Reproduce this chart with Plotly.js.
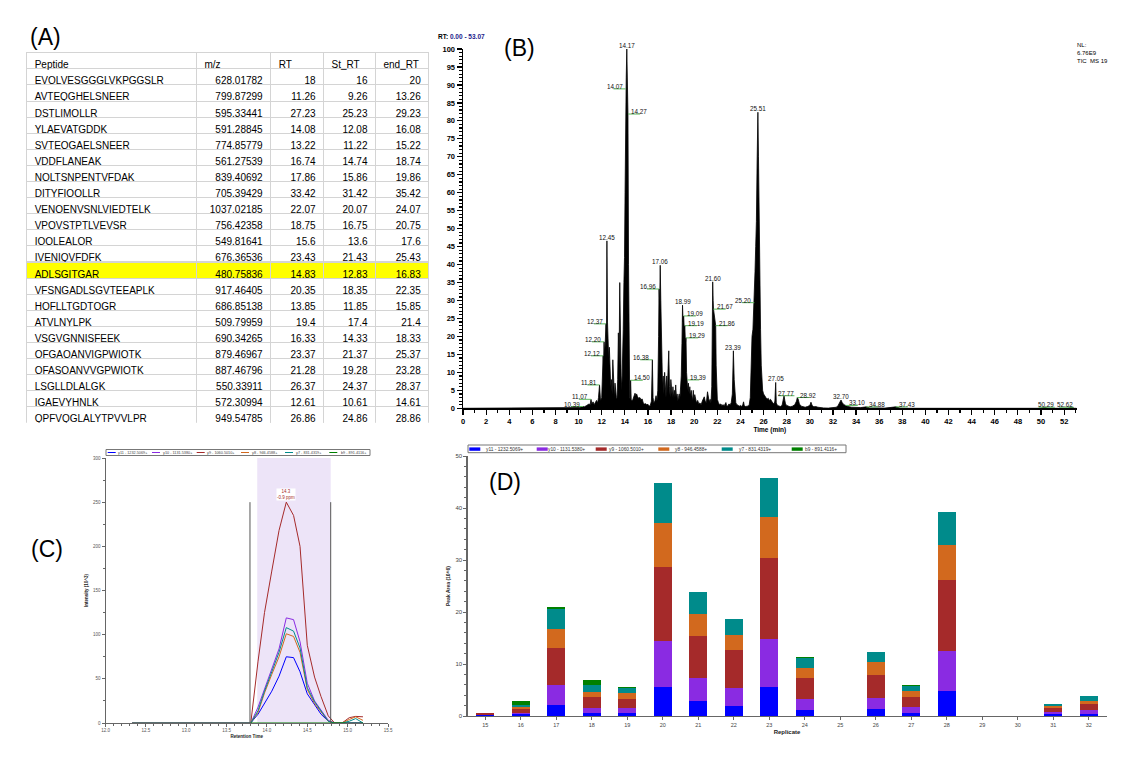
<!DOCTYPE html>
<html><head><meta charset="utf-8">
<script src="https://cdn.plot.ly/plotly-3.0.1.min.js"></script>
<style>html,body{margin:0;padding:0;background:#fff;} #chart{width:1133px;height:769px;}</style>
</head><body><div id="chart"></div>
<script>
const W = 1133, H = 769;
const X = px => px / W;
const Y = py => 1 - py / H;

// ---------------- (A) table data ----------------
const tableHeader = ['Peptide', 'm/z', 'RT', 'St_RT', 'end_RT'];
const peptides = ['EVQLVESGGGLVKPGGSLR','AVTEQGHELSNEER','DSTLIMQLLR','YLAEVATGDDK','SVTEQGAELSNEER','VDDFLANEAK','NQLTSNPENTVFDAK','DITYFIQQLLR','VENQENVSNLVIEDTELK','VPQVSTPTLVEVSR','IQQLEALQR','IVENIQVFDFK','ADLSGITGAR','VFSNGADLSGVTEEAPLK','HQFLLTGDTQGR','ATVLNYLPK','VSGVGNNISFEEK','QFGAQANVIGPWIQTK','QFASQANVVGPWIQTK','LSGLLDLALGK','IGAEVYHNLK','QPFVQGLALYTPVVLPR'];
const mz = ['628.01782','799.87299','595.33441','591.28845','774.85779','561.27539','839.40692','705.39429','1037.02185','756.42358','549.81641','676.36536','480.75836','917.46405','686.85138','509.79959','690.34265','879.46967','887.46796','550.33911','572.30994','949.54785'];
const rt = ['18','11.26','27.23','14.08','13.22','16.74','17.86','33.42','22.07','18.75','15.6','23.43','14.83','20.35','13.85','19.4','16.33','23.37','21.28','26.37','12.61','26.86'];
const stRT = ['16','9.26','25.23','12.08','11.22','14.74','15.86','31.42','20.07','16.75','13.6','21.43','12.83','18.35','11.85','17.4','14.33','21.37','19.28','24.37','10.61','24.86'];
const endRT = ['20','13.26','29.23','16.08','15.22','18.74','19.86','35.42','24.07','20.75','17.6','25.43','16.83','22.35','15.85','21.4','18.33','25.37','23.28','28.37','14.61','28.86'];
const highlightPeptide = 'ADLSGITGAR';

// ---------------- (B) TIC chromatogram data ----------------
const ticTime = [0,9.8,10.1,10.39,10.5,10.7,10.9,11.0,11.07,11.15,11.25,11.35,11.45,11.55,11.65,11.72,11.81,11.9,12.0,12.05,12.12,12.16,12.20,12.26,12.32,12.37,12.41,12.45,12.5,12.55,12.6,12.66,12.72,12.78,12.84,12.9,12.96,13.0,13.05,13.1,13.15,13.2,13.26,13.32,13.38,13.44,13.5,13.56,13.62,13.68,13.74,13.8,13.86,13.92,13.97,14.02,14.07,14.12,14.17,14.22,14.27,14.32,14.37,14.42,14.46,14.50,14.55,14.62,14.7,14.8,14.88,14.95,15.02,15.1,15.2,15.3,15.4,15.5,15.6,15.7,15.8,15.9,16.0,16.1,16.2,16.3,16.38,16.44,16.5,16.6,16.7,16.78,16.85,16.92,16.96,17.01,17.06,17.11,17.15,17.2,17.26,17.32,17.38,17.44,17.5,17.56,17.62,17.68,17.74,17.8,17.86,17.92,17.98,18.04,18.1,18.16,18.22,18.28,18.34,18.4,18.46,18.52,18.58,18.64,18.7,18.76,18.82,18.88,18.94,18.99,19.04,19.09,19.14,19.19,19.24,19.29,19.34,19.39,19.44,19.5,19.56,19.62,19.68,19.74,19.8,19.86,19.92,19.98,20.05,20.12,20.2,20.3,20.4,20.5,20.6,20.7,20.8,20.87,20.95,21.05,21.15,21.22,21.3,21.38,21.45,21.52,21.60,21.64,21.67,21.72,21.78,21.86,21.9,21.95,22.0,22.1,22.2,22.3,22.4,22.5,22.6,22.74,22.8,22.9,23.0,23.1,23.2,23.3,23.39,23.46,23.52,23.6,23.7,23.8,23.9,24.0,24.1,24.2,24.27,24.33,24.45,24.6,24.75,24.85,24.92,25.0,25.08,25.14,25.20,25.26,25.32,25.38,25.44,25.51,25.56,25.62,25.68,25.74,25.8,25.86,25.92,26.0,26.1,26.2,26.3,26.4,26.5,26.6,26.7,26.8,26.9,26.98,27.05,27.1,27.2,27.3,27.45,27.6,27.7,27.77,27.84,27.9,28.0,28.15,28.3,28.5,28.7,28.85,28.92,29.0,29.1,29.25,29.4,29.6,29.8,30.0,30.1,30.2,30.35,30.5,30.7,30.9,31.2,31.6,32.0,32.3,32.45,32.57,32.70,32.8,32.95,33.10,33.3,33.6,34.0,34.4,34.88,35.2,35.8,36.5,37.43,37.8,38.5,50.0,50.29,50.6,52.3,52.62,52.9,53.07];
const ticIntensity = [0,0,0.2,0.5,0.4,0.8,1.2,1.0,2.5,1.2,1.8,1.0,1.6,2.2,1.5,3.0,6.5,2.0,3.0,8,14.6,12,18.5,15,20,23.5,20,46.6,24,17.5,14,17,12,6,8,4,13.5,9,5,3,7,4,3,2.5,8,21,12,35,15,9,5,11,22,35,42,60,88.9,92,100,90,81.9,40,8,3,2.5,7.8,2.5,2.0,2.5,3.5,4.2,3.5,4.0,3.2,2.8,3.0,2.4,2.6,1.4,1.2,1.3,1.0,1.1,0.6,0.8,2,13.5,3,1.5,2,3.5,2,5,20,33.2,28,39.8,30,24,12,6,9,4,10,5,3,9,4,11,16,6,3,8,5,3,6,3,5,3,6.5,3,4,2,3,4,2.5,5,9,18,28.7,24,25.7,22,23.0,18,19.6,10,7.9,5,7,4,6,3.5,5,3,2,5,2.5,3.8,2,1.5,2.2,1.2,1.5,1.0,2.0,3.0,3.2,2.0,1.5,4.6,3.5,1.8,2.5,1.5,6,35.2,30,27.6,26,24,23.0,12,4,2.5,1.5,1.0,1.2,0.8,1.0,0.7,1.6,0.8,0.6,1.2,1.0,1.5,4,16.0,8,3,1.5,1.0,0.8,0.6,0.8,0.5,1.0,1.8,0.7,0.5,0.6,0.8,3,12,20,22,27,29.4,38,45,52,68,82.4,70,50,35,22,12,7,5,4,3.5,3,2.5,2.8,2.2,2.5,1.8,1.5,1.2,2,7.2,1.5,0.8,0.6,0.5,0.8,2,3.5,2.2,1.2,0.8,0.5,0.4,0.6,1.0,2,3.0,2.5,1.2,0.6,0.4,0.3,0.5,0.8,1.7,0.8,0.4,0.5,0.3,0.3,0.1,0.05,0.1,0.3,0.8,1.5,2.3,1.6,1.0,0.8,0.5,0.3,0.2,0.2,0.4,0.1,0.1,0.05,0.4,0.05,0,0,0.3,0,0,0.3,0,0];
const peakLabelRT = [10.39,11.07,11.81,12.12,12.20,12.37,12.45,14.07,14.17,14.27,14.50,16.38,16.96,17.06,18.99,19.09,19.19,19.29,19.39,21.60,21.67,21.86,23.39,25.20,25.51,27.05,27.77,28.92,32.70,33.10,34.88,37.43,50.29,52.62];
const peakLabelLevel = [0.5,2.5,6.5,14.6,18.5,23.5,46.6,88.9,100,81.9,7.8,13.5,33.2,39.8,28.7,25.7,23.0,19.6,7.9,35.2,27.6,23.0,16.0,29.4,82.4,7.2,3.5,3.0,2.3,0.8,0.4,0.4,0.3,0.3];
// label placement (style): l = left of peak with leader, r = right with leader, t = on top, c = centered with leader, e = ending just past the peak
const peakLabelSide = ['l','l','l','l','l','l','t','l','t','r','r','l','l','t','t','r','r','r','r','t','r','r','t','l','t','t','c','r','t','r','r','r','c','e'];

// ---------------- (C) XIC data ----------------
const xicTime = [12.33,13.05,13.80,13.89,13.97,14.06,14.15,14.24,14.33,14.41,14.50,14.59,14.67,14.76,14.84,14.93,15.02,15.10,15.19];
const xicY11 = [0,0,0,10,22,36,53,75,74,58,33,20,10,2,0,0,0,0,0];
const xicY10 = [0,0,0,18,38,60,84,119,117,92,45,25,14,3,0,0,0,0,0];
const xicY9  = [0,0,0,70,125,172,218,250,235,200,88,52,30,8,0,0,6,7.5,7];
const xicY8  = [0,0,0,12,34,55,75,101,98,80,38,22,12,2,0,0,4,7,3];
const xicY7  = [0,0,0,14,36,58,80,108,104,85,40,24,13,2,0,0,2,5,0];
const xicB9  = [null,null,0,0,0,0,0,0,0,0,0,0,0,0,0,0,0,0,0];
const fragmentNames = ['y11 - 1232.5069+','y10 - 1131.5380+','y9 - 1060.5010+','y8 - 946.4588+','y7 - 831.4319+','b9 - 891.4116+'];
const apexLabel = '14.3<br>-0.9 ppm';

// ---------------- (D) peak areas ----------------
const replicates = ['15','16','17','18','19','20','21','22','23','24','25','26','27','28','29','30','31','32'];
const areaY11 = [0.15,0.3,2.2,0.65,0.5,5.6,2.9,2.0,5.5,1.2,0,1.4,0.65,4.9,0,0,0.3,0.45];
const areaY10 = [0.05,0.2,3.8,0.95,1.0,8.8,4.5,3.4,9.3,2.1,0,2.0,1.05,7.6,0,0,0.45,0.65];
const areaY9  = [0.35,0.85,7.1,2.1,1.8,14.3,7.9,7.2,15.6,4.1,0,4.5,2.0,13.7,0,0,0.85,1.2];
const areaY8  = [0.05,0.35,3.6,1.0,1.2,8.5,4.3,3.0,7.9,1.9,0,2.4,1.1,6.7,0,0,0.3,0.65];
const areaY7  = [0,0.5,3.8,1.2,0.8,7.7,4.2,3.1,7.5,1.9,0,2.1,1.0,6.3,0,0,0.5,0.9];
const areaB9  = [0,0.75,0.5,1.0,0.3,0,0.1,0,0,0.2,0,0,0.1,0,0,0,0,0];

// ---------------- styles ----------------
const fragColors = ['#0000ff','#8a2be2','#a52a2a','#d2691e','#008b8b','#008000'];
const FONT = 'Liberation Sans, Arial, sans-serif';

const traces = [];

// (A) table
const fillCol = peptides.map(p => p === highlightPeptide ? '#ffff00' : '#ffffff');
traces.push({
  type: 'table',
  domain: {x: [X(26.7), X(429.3)], y: [Y(423), Y(52.7)]},
  columnwidth: [170, 74.3, 53, 52, 53.3],
  header: {values: tableHeader, align: 'left', height: 16.1,
    fill: {color: '#ffffff'}, line: {color: '#d4d4d4', width: 1},
    font: {family: FONT, size: 10, color: '#000'}},
  cells: {values: [peptides, mz, rt, stRT, endRT],
    align: ['left','right','right','right','right'], height: 16.1,
    fill: {color: [fillCol, fillCol, fillCol, fillCol, fillCol]},
    line: {color: '#d4d4d4', width: 1},
    font: {family: FONT, size: 10, color: '#000'}}
});

// (B) TIC
traces.push({
  type: 'scatter', mode: 'lines', x: ticTime, y: ticIntensity,
  xaxis: 'x', yaxis: 'y', fill: 'tozeroy', fillcolor: '#000',
  line: {color: '#000', width: 0.8}, showlegend: false, hoverinfo: 'skip'
});

// (C) XIC
const xicSeries = [xicY11, xicY10, xicY9, xicY8, xicY7, xicB9];
xicSeries.forEach((s, i) => {
  traces.push({type: 'scatter', mode: 'lines', x: xicTime, y: s, xaxis: 'x2', yaxis: 'y2',
    line: {color: fragColors[i], width: 1}, showlegend: false, name: fragmentNames[i], connectgaps: false});
});

// (D) stacked bars
const areaSeries = [areaY11, areaY10, areaY9, areaY8, areaY7, areaB9];
areaSeries.forEach((s, i) => {
  traces.push({type: 'bar', x: replicates, y: s, xaxis: 'x3', yaxis: 'y3',
    marker: {color: fragColors[i], line: {width: 0}}, showlegend: false, name: fragmentNames[i]});
});

const shapes = [];
const annotations = [];

// panel labels
[['(A)', 45, 37], ['(B)', 519, 48], ['(C)', 47, 549], ['(D)', 505, 482]].forEach(([t, px, py]) => {
  annotations.push({text: t, xref: 'paper', yref: 'paper', x: X(px), y: Y(py), xanchor: 'center', yanchor: 'middle',
    showarrow: false, font: {family: FONT, size: 23, color: '#000'}});
});

// (B) peak labels
const leadMin = 1.05;
const green = '#5cb85c';
peakLabelRT.forEach((t, i) => {
  const lv = peakLabelLevel[i], side = peakLabelSide[i];
  const txt = t.toFixed(2);
  const a = {text: txt, xref: 'x', yref: 'y', x: t, y: lv, yanchor: 'bottom', showarrow: false,
    font: {family: FONT, size: 6.3, color: '#111'}, borderpad: 0};
  if (side === 't') { a.xanchor = 'center'; a.yshift = -1; }
  else if (side === 'l') { a.xanchor = 'right'; a.xshift = -2; a.yshift = -2;
    shapes.push({type: 'line', xref: 'x', yref: 'y', x0: t - leadMin, x1: t, y0: lv, y1: lv, line: {color: green, width: 1}}); }
  else if (side === 'r') { a.xanchor = 'left'; a.xshift = 2; a.yshift = -2;
    shapes.push({type: 'line', xref: 'x', yref: 'y', x0: t, x1: t + leadMin, y0: lv, y1: lv, line: {color: green, width: 1}}); }
  else if (side === 'e') { a.xanchor = 'right'; a.xshift = 3; a.yshift = -2;
    shapes.push({type: 'line', xref: 'x', yref: 'y', x0: t - leadMin, x1: t + 0.2, y0: lv, y1: lv, line: {color: green, width: 1}}); }
  else { a.xanchor = 'center'; a.xshift = 2; a.yshift = -2;
    shapes.push({type: 'line', xref: 'x', yref: 'y', x0: t - 0.5, x1: t + 0.9, y0: lv, y1: lv, line: {color: green, width: 1}}); }
  annotations.push(a);
});
annotations.push({text: 'RT: <span style="color:#22228a">0.00 - 53.07</span>', xref: 'paper', yref: 'paper', x: X(436), y: Y(37),
  xanchor: 'left', yanchor: 'middle', showarrow: false, font: {family: FONT, size: 6.5, color: '#000', weight: 'bold'}});
annotations.push({text: 'NL:<br>6.76E9<br>TIC  MS 19', xref: 'paper', yref: 'paper', x: X(1075), y: Y(40),
  xanchor: 'left', yanchor: 'top', align: 'left', showarrow: false, font: {family: FONT, size: 6, color: '#000'}});

// (C) shaded window and boundaries
shapes.push({type: 'rect', xref: 'x2', yref: 'y2', x0: 13.88, x1: 14.79, y0: 0, y1: 300, fillcolor: '#ede4f8', line: {width: 0}, layer: 'below'});
shapes.push({type: 'line', xref: 'x2', yref: 'y2', x0: 13.79, x1: 13.79, y0: 0, y1: 250, line: {color: '#555', width: 1}});
shapes.push({type: 'line', xref: 'x2', yref: 'y2', x0: 14.79, x1: 14.79, y0: 0, y1: 250, line: {color: '#555', width: 1}});
annotations.push({text: apexLabel, xref: 'x2', yref: 'y2', x: 14.24, y: 250, yanchor: 'bottom', xanchor: 'center', yshift: 1,
  showarrow: false, bgcolor: '#fff', borderpad: 0, font: {family: FONT, size: 4.5, color: '#a52a2a'}});

// (C) legend (manual, compact)
shapes.push({type: 'rect', xref: 'paper', yref: 'paper', x0: X(106), x1: X(370), y0: Y(455.5), y1: Y(449.5), line: {color: '#777', width: 1}, fillcolor: 'rgba(0,0,0,0)'});
const cLegLine = [106.7, 151, 195.7, 240, 284, 328.3];
const cLegText = [117.3, 161.7, 206, 250.7, 295, 340];
fragmentNames.forEach((n, i) => {
  shapes.push({type: 'line', xref: 'paper', yref: 'paper', x0: X(cLegLine[i] + 1), x1: X(cLegLine[i] + 9), y0: Y(452.5), y1: Y(452.5), line: {color: fragColors[i], width: 1}});
  annotations.push({text: n, xref: 'paper', yref: 'paper', x: X(cLegText[i]), y: Y(452.5), xanchor: 'left', yanchor: 'middle',
    showarrow: false, borderpad: 0, font: {family: FONT, size: 3.8, color: '#444'}});
});

// (D) legend (manual, compact)
shapes.push({type: 'rect', xref: 'paper', yref: 'paper', x0: X(468), x1: X(846), y0: Y(452.7), y1: Y(445), line: {color: '#777', width: 1}, fillcolor: 'rgba(0,0,0,0)'});
const dLegSw = [469.3, 536.7, 595.7, 658.3, 721.7, 791.7];
const dLegText = [485, 547.3, 607.7, 674.3, 737.7, 804.3];
fragmentNames.forEach((n, i) => {
  shapes.push({type: 'rect', xref: 'paper', yref: 'paper', x0: X(dLegSw[i]), x1: X(dLegSw[i] + 11), y0: Y(450.8), y1: Y(447.4), fillcolor: fragColors[i], line: {width: 0}});
  annotations.push({text: n, xref: 'paper', yref: 'paper', x: X(dLegText[i]), y: Y(449), xanchor: 'left', yanchor: 'middle',
    showarrow: false, borderpad: 0, font: {family: FONT, size: 4.8, color: '#333'}});
});

const layout = {
  width: W, height: H, margin: {l: 0, r: 0, t: 0, b: 0, pad: 0},
  paper_bgcolor: '#fff', plot_bgcolor: 'rgba(0,0,0,0)', showlegend: false,
  barmode: 'stack', bargap: 0.5, font: {family: FONT},
  xaxis: {domain: [X(463), X(1076.5)], anchor: 'y', range: [0, 53.07], showgrid: false, zeroline: false,
    showline: true, linecolor: '#000', linewidth: 1.5, ticks: 'outside', ticklen: 5, tickwidth: 1.2, tickcolor: '#000',
    tick0: 0, dtick: 2, minor: {dtick: 1, ticklen: 3, tickcolor: '#000', ticks: 'outside'},
    tickfont: {family: FONT, size: 7.5, color: '#000', weight: 'bold'},
    title: {text: 'Time (min)', font: {family: FONT, size: 6.5, color: '#000', weight: 'bold'}, standoff: 1}},
  yaxis: {domain: [Y(408.3), Y(49)], anchor: 'x', range: [0, 100], showgrid: false, zeroline: false,
    showline: true, linecolor: '#000', linewidth: 1.5, ticks: 'outside', ticklen: 5, tickwidth: 1.2, tickcolor: '#000',
    tick0: 0, dtick: 5, minor: {dtick: 1, ticklen: 3, tickcolor: '#000', ticks: 'outside'},
    tickfont: {family: FONT, size: 7.5, color: '#000', weight: 'bold'}},
  xaxis2: {domain: [X(105.5), X(388)], anchor: 'y2', range: [12.0, 15.5], showgrid: false, zeroline: false,
    showline: true, linecolor: '#666', linewidth: 1, ticks: 'outside', ticklen: 3, tickcolor: '#666',
    tick0: 12, dtick: 0.5, tickformat: '.1f', minor: {dtick: 0.1, ticklen: 1.5, tickcolor: '#666', ticks: 'outside'},
    tickfont: {family: FONT, size: 4.5, color: '#555'},
    title: {text: 'Retention Time', font: {family: FONT, size: 4.5, color: '#222', weight: 'bold'}, standoff: 2}},
  yaxis2: {domain: [Y(723), Y(458)], anchor: 'x2', range: [0, 300], showgrid: false, zeroline: false,
    showline: true, linecolor: '#666', linewidth: 1, ticks: 'outside', ticklen: 3, tickcolor: '#666',
    tick0: 0, dtick: 50, minor: {dtick: 25, ticklen: 1.5, tickcolor: '#666', ticks: 'outside'},
    tickfont: {family: FONT, size: 4.5, color: '#555'},
    title: {text: 'Intensity (10^3)', font: {family: FONT, size: 4.5, color: '#222', weight: 'bold'}, standoff: 4}},
  xaxis3: {domain: [X(467.5), X(1106.5)], anchor: 'y3', type: 'category', range: [-0.5, 17.5], showgrid: false, zeroline: false,
    showline: true, linecolor: '#666', linewidth: 1.2, ticks: 'outside', ticklen: 3, tickcolor: '#666',
    tickfont: {family: FONT, size: 5.5, color: '#444'},
    title: {text: 'Replicate', font: {family: FONT, size: 6, color: '#222', weight: 'bold'}, standoff: 3}},
  yaxis3: {domain: [Y(716), Y(456)], anchor: 'x3', range: [0, 50], showgrid: false, zeroline: false,
    showline: true, linecolor: '#666', linewidth: 1.2, ticks: 'outside', ticklen: 3, tickcolor: '#666',
    tick0: 0, dtick: 10, minor: {dtick: 2, ticklen: 2, tickcolor: '#666', ticks: 'outside'},
    tickfont: {family: FONT, size: 6, color: '#444'},
    title: {text: 'Peak Area (10^6)', font: {family: FONT, size: 5, color: '#222', weight: 'bold'}, standoff: 4}},
  shapes: shapes, annotations: annotations
};

Plotly.newPlot('chart', traces, layout, {displayModeBar: false, staticPlot: true});
</script>
</body></html>
